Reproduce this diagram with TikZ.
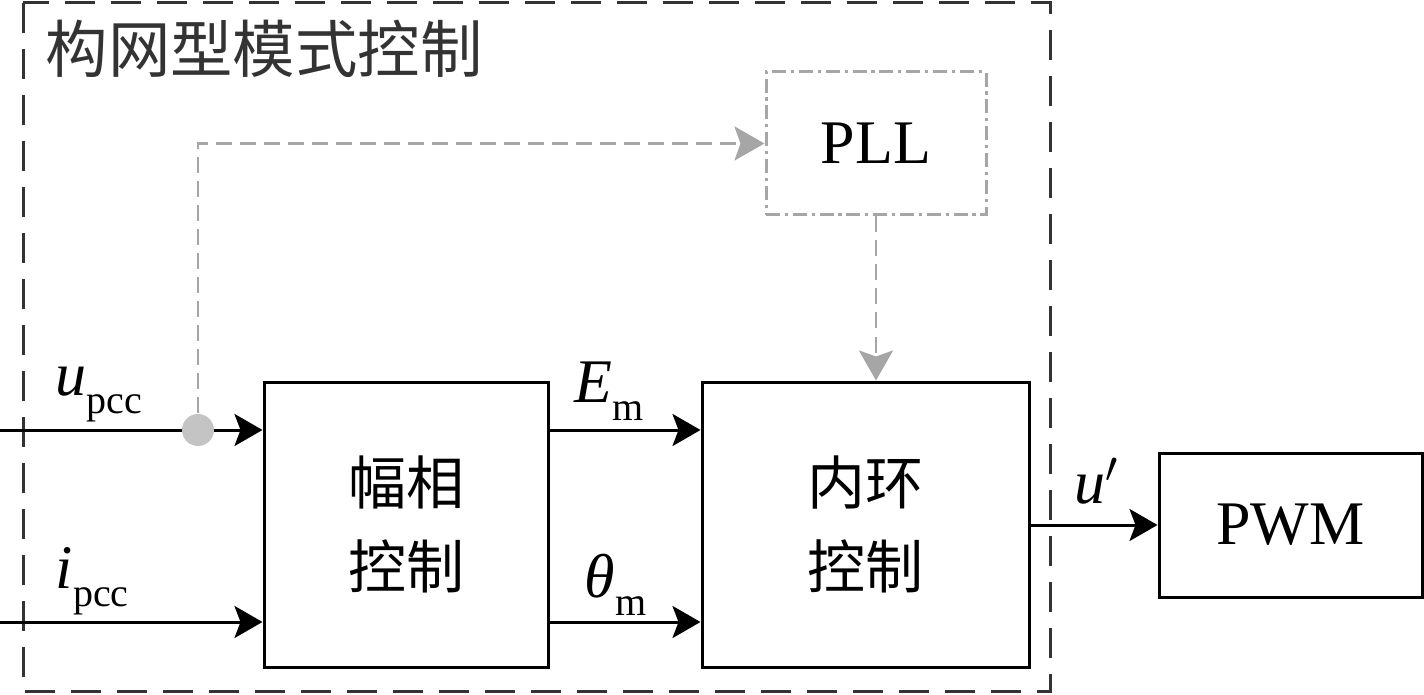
\documentclass[tikz,border=0pt]{standalone}
\usepackage{fontspec}
\setmainfont{Liberation Serif}
\newfontfamily\cjk{Noto Sans CJK SC}
\usetikzlibrary{arrows.meta}
\definecolor{frame}{HTML}{333333}
\definecolor{pllgray}{HTML}{A6A6A6}
\definecolor{dotgray}{HTML}{C4C4C4}
\newcommand{\lbl}[2]{\fontsize{15.5}{15.5}\selectfont\textit{#1}\raisebox{-4.5pt}{\fontsize{10}{10}\selectfont #2}}

\tikzset{
	blk/.style={draw,line width=0.75pt,inner sep=0pt,font=\fontsize{15.5}{21}\selectfont},
	sig/.style={line width=0.75pt,-{Stealth[length=7pt,width=8pt,inset=1.5pt]}},
	aux/.style={pllgray,line width=0.7pt,dash pattern=on 4pt off 2pt,-{Stealth[length=7.5pt,width=8.5pt,inset=1.5pt]}}
}

\begin{document}
\begin{tikzpicture}[x=0.25pt,y=-0.25pt]
	\useasboundingbox (0,0) rectangle (1424,695);
	\draw[frame,line width=0.75pt,dash pattern=on 7.5pt off 4pt] (23,3) rectangle (1050,691);
	\node[frame,anchor=west,inner sep=0pt,font=\cjk\fontsize{15.6}{15.6}\selectfont] (title) at (45,49) {构网型模式控制};
	\node[blk,minimum width=71pt,minimum height=71.25pt,align=center,font=\cjk\fontsize{14.5}{21}\selectfont] (amp) at (406,524.5) {幅相\\控制};
	\node[blk,minimum width=81.75pt,minimum height=71.25pt,align=center,font=\cjk\fontsize{14.5}{21}\selectfont] (inner) at (865.5,524.5) {内环\\控制};
	\node[blk,draw=pllgray,dash pattern=on 3.5pt off 1.2pt on 0.8pt off 1.2pt,minimum width=55pt,minimum height=35.75pt] (pll) at (876,143.5) {PLL};
	\node[blk,minimum width=65.75pt,minimum height=36pt] (pwm) at (1290.5,525) {PWM};
	\coordinate (uin) at (0,430);
	\coordinate (iin) at (0,622);
	\draw[sig] (uin) -- (amp.west |- uin);
	\draw[sig] (iin) -- (amp.west |- iin);
	\draw[sig] (amp.east |- uin) -- (inner.west |- uin);
	\draw[sig] (amp.east |- iin) -- (inner.west |- iin);
	\draw[sig] (inner.east |- pwm.west) -- (pwm.west);
	\node[circle,fill=dotgray,inner sep=0pt,minimum size=8pt] (dot) at (198,430) {};
	\draw[aux] (dot) |- (pll.west);
	\draw[aux] (pll.south) -- (pll.south |- inner.north);
	\node[anchor=base west,inner sep=0pt] (ulab) at (55,396) {\lbl{u}{pcc}};
	\node[anchor=base west,inner sep=0pt] (ilab) at (55,588) {\lbl{i}{pcc}};
	\node[anchor=base west,inner sep=0pt] (elab) at (574,402) {\lbl{E}{m}};
	\node[anchor=base west,inner sep=0pt] (tlab) at (584,597) {\lbl{θ}{m}};
	\node[anchor=base west,inner sep=0pt] (uplab) at (1074,503) {\fontsize{15.5}{15.5}\selectfont\textit{u}$'$};
\end{tikzpicture}
\end{document}
